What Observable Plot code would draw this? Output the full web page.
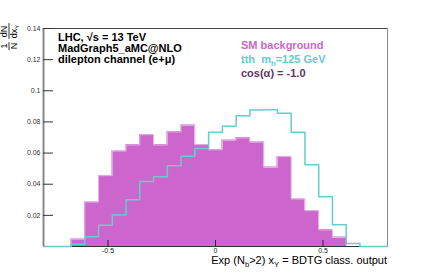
<!DOCTYPE html>
<html><head><meta charset="utf-8">
<script src="https://cdn.jsdelivr.net/npm/d3@7"></script>
<script src="https://cdn.jsdelivr.net/npm/@observablehq/plot@0.6"></script>
<style>body{margin:0;background:#fff} svg{display:block}</style>
</head><body><div id="chart"></div>
<script>
const binEdges = [-0.8,-0.736,-0.672,-0.608,-0.544,-0.48,-0.416,-0.352,-0.288,-0.224,-0.16,-0.096,-0.032,0.032,0.096,0.16,0.224,0.288,0.352,0.416,0.48,0.544,0.608,0.672,0.736,0.8];
const smBackground = [0,0,0.0047,0.0285,0.0455,0.0613,0.0652,0.0718,0.0652,0.0736,0.0778,0.0654,0.0621,0.0682,0.0697,0.067,0.0508,0.0577,0.0305,0.023,0.0106,0.0058,0,0,0];
const tthSignal = [0,0,0.0015,0.0063,0.0137,0.0202,0.030,0.0418,0.0448,0.0519,0.0579,0.063,0.0733,0.0772,0.084,0.0877,0.0879,0.0855,0.0733,0.0525,0.032,0.014,0.0019,0,0];
const yTicks = [0.02,0.04,0.06,0.08,0.1,0.12,0.14];
const xTicks = [-0.5,0,0.5];
const xDomain = [-0.8,0.8];
const yDomain = [0,0.14];

const bins = smBackground.map((v,i)=>({x1:binEdges[i],x2:binEdges[i+1],y:v})).filter(d=>d.y>0);
const bgPts = binEdges.map((e,i)=>({x:e,y:smBackground[Math.min(i,smBackground.length-1)]}));
const stepPts = binEdges.map((e,i)=>({x:e,y:tthSignal[Math.min(i,tthSignal.length-1)]}));

const chart = Plot.plot({
  width:430, height:273, marginTop:28, marginBottom:27, marginLeft:43, marginRight:43,
  style:{fontFamily:"'Liberation Sans', Arial, sans-serif", background:"#fff", color:"#000"},
  x:{domain:xDomain},
  y:{domain:yDomain},
  marks:[
    Plot.rectY(bins,{x1:"x1",x2:"x2",y:"y",fill:"#cc66cc",stroke:"#cc66cc",strokeWidth:0.5,insetLeft:0,insetRight:0,shapeRendering:"crispEdges"}),
    Plot.line(bgPts,{x:"x",y:"y",curve:"step-after",stroke:"#e4b4e4",strokeWidth:1}),
    Plot.ruleY([0],{stroke:"#333"}),
    Plot.ruleY([yDomain[1]],{stroke:"#444"}),
    Plot.ruleX([xDomain[1]],{stroke:"#888"}),
    Plot.line(stepPts,{x:"x",y:"y",curve:"step-after",stroke:"#66cccc",strokeWidth:1.5}),
    Plot.ruleX([xDomain[0]],{stroke:"#888",strokeWidth:2}),
    Plot.axisY(yTicks,{tickSize:-10,tickPadding:13,tickFormat:d=>String(d),fontSize:7,color:"#333",label:null}),
    Plot.axisX(xTicks,{tickSize:-6,tickPadding:8,tickFormat:d=>String(d),fontSize:7,color:"#222",label:null})
  ]
});
document.getElementById("chart").appendChild(chart);

const svg = d3.select(chart);
function addText(parent,x,y,parts,attrs){
  const t = parent.append("text").attr("x",x).attr("y",y).attr("text-anchor","start").style("white-space","pre");
  for(const k in attrs) t.attr(k,attrs[k]);
  let shift=0;
  for(const [s,kind] of parts){
    const ts = t.append("tspan").text(s);
    if(kind==="sub"){ ts.attr("font-size","0.7em").attr("dy",3-shift); shift=3; }
    else { if(shift){ ts.attr("dy",-shift); shift=0; } }
  }
  return t;
}
const bold = {"font-weight":"bold","font-size":11};
addText(svg,58,41,[["LHC, √s = 13 TeV"]],{...bold,fill:"#000"});
addText(svg,58,52,[["MadGraph5_aMC@NLO"]],{...bold,fill:"#000"});
addText(svg,58,62.5,[["dilepton channel (e+μ)"]],{...bold,fill:"#000"});
addText(svg,241,49,[["SM background"]],{...bold,fill:"#cc66cc"});
addText(svg,241,63,[["tth  m"],["h","sub"],["=125 GeV"]],{...bold,fill:"#66cccc"});
addText(svg,241,76.5,[["cos(α) = -1.0"]],{...bold,fill:"#663366"});
addText(svg,387,264,[["Exp (N"],["b","sub"],[">2) x"],["Y","sub"],[" = BDTG class. output"]],{"font-size":11,"text-anchor":"end",fill:"#000"});

const g = svg.append("g").attr("transform","translate(8.5,50) rotate(-90)").attr("font-size",9).attr("fill","#000").attr("text-anchor","middle");
g.append("text").attr("x",4).attr("y",-1.5).text("1");
g.append("line").attr("x1",0).attr("x2",8).attr("y1",0.5).attr("y2",0.5).attr("stroke","#000").attr("stroke-width",0.8);
g.append("text").attr("x",4).attr("y",8).text("N");
g.append("text").attr("x",18.5).attr("y",-1.5).text("dN");
g.append("line").attr("x1",11).attr("x2",27).attr("y1",0.5).attr("y2",0.5).attr("stroke","#000").attr("stroke-width",0.8);
const dx = g.append("text").attr("x",18.5).attr("y",8);
dx.append("tspan").text("dx");
dx.append("tspan").attr("font-size",6).attr("dy",2).text("Y");
</script>
</body></html>
